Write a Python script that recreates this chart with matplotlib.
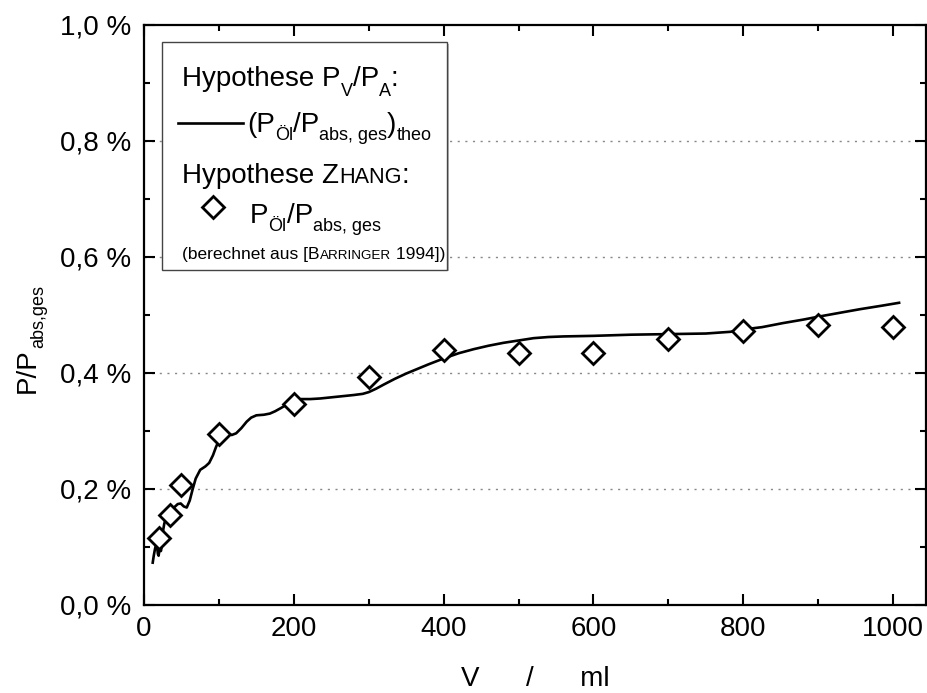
import matplotlib
matplotlib.use("Agg")
import matplotlib.pyplot as plt
from matplotlib.patches import Rectangle
from matplotlib.ticker import MultipleLocator, FuncFormatter
from matplotlib.transforms import ScaledTranslation

plt.rcParams['font.family'] = ['Liberation Sans', 'DejaVu Sans']

# measured points (Zhang hypothesis, from Barringer 1994)
V_exp = [20, 35, 50, 100, 200, 300, 400, 500, 600, 700, 800, 900, 1000]
P_exp = [0.115, 0.155, 0.207, 0.295, 0.347, 0.393, 0.440, 0.434, 0.434,
         0.458, 0.473, 0.483, 0.479]

# theoretical curve (P_V/P_A hypothesis)
V_theo = [11.6, 13, 14.7, 16, 17.5, 18.5, 19.5, 20.5, 21.5, 22.5, 23.5, 25, 27,
          30, 35, 40, 45, 49, 53, 57, 61, 65, 69, 75, 82, 87, 92, 96, 100,
          105, 110, 117, 123, 130, 137, 143, 150, 160, 168, 175, 182, 190,
          200, 210, 222, 235, 250, 265, 280, 292, 300, 310, 320, 335, 350,
          365, 380, 400, 420, 440, 460, 480, 500, 520, 540, 560, 600, 650,
          700, 750, 783, 800, 825, 853, 880, 900, 930, 956, 985, 1008]
P_theo = [0.073, 0.085, 0.097, 0.103, 0.100, 0.088, 0.085, 0.095, 0.100, 0.093,
          0.100, 0.125, 0.140, 0.153, 0.163, 0.168, 0.174, 0.175, 0.170, 0.168,
          0.180, 0.200, 0.218, 0.233, 0.239, 0.245, 0.258, 0.272, 0.284, 0.293,
          0.296, 0.293, 0.296, 0.305, 0.316, 0.323, 0.327, 0.328, 0.330, 0.334,
          0.339, 0.345, 0.352, 0.355, 0.355, 0.356, 0.358, 0.360, 0.362, 0.364,
          0.367, 0.373, 0.380, 0.390, 0.399, 0.407, 0.415, 0.425, 0.434, 0.441,
          0.447, 0.452, 0.456, 0.460, 0.462, 0.463, 0.464, 0.466, 0.467, 0.468,
          0.471, 0.475, 0.479, 0.486, 0.492, 0.497, 0.504, 0.510, 0.516, 0.521]

FS = 20     # normal text size
SUB = 13    # subscript size
DROP = 6    # subscript drop in points

fig = plt.figure(figsize=(9.28, 6.93), dpi=100)
ax = fig.add_axes([0.1552, 0.127, 0.8427, 0.837])

ax.plot(V_theo, P_theo, color='black', lw=1.9, zorder=3)
ax.plot(V_exp, P_exp, 'D', ms=11, mfc='white', mec='black', mew=2, zorder=4)

ax.set_xlim(0, 1044)
ax.set_ylim(0, 1.0)
ax.xaxis.set_major_locator(MultipleLocator(200))
ax.xaxis.set_minor_locator(MultipleLocator(100))
ax.yaxis.set_major_locator(MultipleLocator(0.2))
ax.yaxis.set_minor_locator(MultipleLocator(0.1))
ax.yaxis.set_major_formatter(FuncFormatter(lambda v, p: f"{v:.1f} %".replace('.', ',')))

for ln in [0.2, 0.4, 0.6, 0.8]:
    ax.axhline(ln, color='#888888', lw=1, ls=(0, (1.5, 4)), zorder=1)

for s in ax.spines.values():
    s.set_linewidth(1.6)
ax.tick_params(which='both', direction='in', top=True, right=True,
               labelsize=FS, width=1.5)
ax.tick_params(which='major', length=8)
ax.tick_params(which='minor', length=4.5)
ax.tick_params(axis='x', pad=8)
ax.tick_params(axis='y', pad=9)

ax.set_xlabel("V      /      ml", fontsize=FS, labelpad=17)

# legend box drawn by hand
ax.add_patch(Rectangle((0.025, 0.5750), 0.3650, 0.3930, transform=ax.transAxes,
                       facecolor='#bbbbbb', edgecolor='none', zorder=5))
ax.add_patch(Rectangle((0.023, 0.5776), 0.3645, 0.3931, transform=ax.transAxes,
                       facecolor='white', edgecolor='#444444', lw=1, zorder=5))

renderer = fig.canvas.get_renderer()


def put_runs(x, y, runs, trans, rotate=False):
    inv = trans.inverted()
    for s, size, drop in runs:
        if rotate:
            off = ScaledTranslation(drop / 72, 0, fig.dpi_scale_trans)
        else:
            off = ScaledTranslation(0, -drop / 72, fig.dpi_scale_trans)
        t = fig.text(x, y, s, fontsize=size, transform=trans + off,
                     ha='left', va='baseline', zorder=6,
                     rotation=90 if rotate else 0, rotation_mode='anchor')
        bb = t.get_window_extent(renderer)
        if rotate:
            y = inv.transform((bb.x0, bb.y1))[1]
        else:
            x = inv.transform((bb.x1, bb.y0))[0]


T = ax.transAxes
put_runs(0.0486, 0.8948, [("Hypothese P", FS, 0), ("V", SUB, 7.5), ("/P", FS, 0),
                          ("A", SUB, 7.5), (":", FS, 0)], T)
ax.plot([0.0435, 0.1266], [0.831, 0.831], color='black', lw=1.9,
        transform=T, zorder=6)
put_runs(0.1317, 0.8155, [("(P", FS, 0), ("Öl", SUB, DROP), ("/P", FS, 0),
                          ("abs, ges", SUB, DROP), (")", FS, 0),
                          ("theo", SUB, DROP)], T)
put_runs(0.0486, 0.7276, [("Hypothese Z", FS, 0), ("HANG", FS * 0.78, 0),
                          (":", FS, 0)], T)
ax.plot([0.0882], [0.6862], 'D', ms=11, mfc='white', mec='black', mew=2,
        transform=T, zorder=6, clip_on=False)
put_runs(0.1355, 0.6586, [("P", FS, 0), ("Öl", SUB, DROP), ("/P", FS, 0),
                          ("abs, ges", SUB, DROP)], T)
put_runs(0.0486, 0.5966, [("(berechnet aus [B", 12.5, 0), ("ARRINGER", 9.7, 0),
                          (" 1994])", 12.5, 0)], T)

# y axis label, rotated, with a real subscript drop
put_runs(35 / 928, 300 / 693, [("P/P", FS, 0), ("abs,ges", SUB, DROP)],
         fig.transFigure, rotate=True)

fig.savefig("out.png", dpi=100)
